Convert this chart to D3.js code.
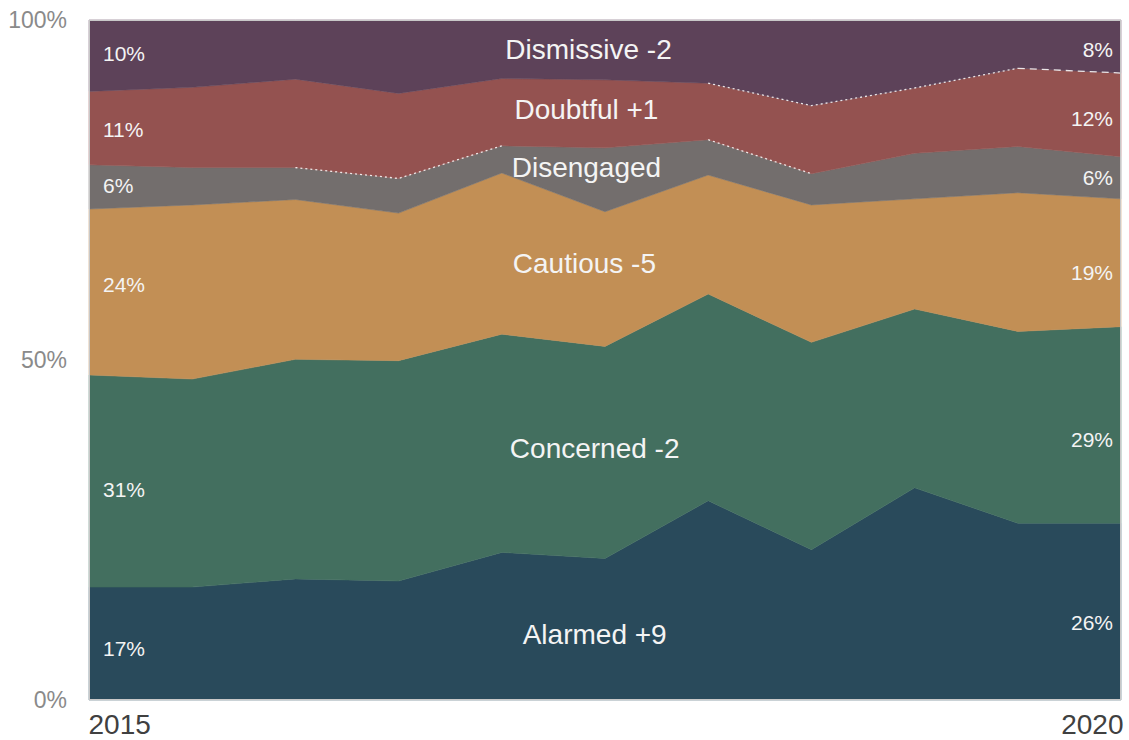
<!DOCTYPE html>
<html>
<head>
<meta charset="utf-8">
<script src="https://cdn.jsdelivr.net/npm/d3@7"></script>
<style>
  html, body { margin: 0; padding: 0; background: #fff; }
  svg { display: block; font-family: "Liberation Sans", Arial, sans-serif; }
</style>
</head>
<body>
<svg id="chart" width="1129" height="740"></svg>
<script>
// ---------------- data ----------------
const periods = [2015, 2015.5, 2016, 2016.5, 2017, 2017.5, 2018, 2018.5, 2019, 2019.5, 2020];
const alarmed    = [16.6, 16.6, 17.8, 17.5, 21.7, 20.8, 29.3, 22.1, 31.2, 26.0, 26.0];
const concerned  = [31.2, 30.6, 32.3, 32.4, 32.1, 31.2, 30.4, 30.5, 26.3, 28.2, 28.9];
const cautious   = [24.4, 25.6, 23.5, 21.7, 23.7, 19.8, 17.5, 20.2, 16.2, 20.4, 18.8];
const disengaged = [ 6.5,  5.5,  4.7,  5.1,  4.0,  9.4,  5.2,  4.6,  6.7,  6.8,  6.2];
const doubtful   = [10.8, 11.8, 13.0, 12.5,  9.9, 10.0,  8.3, 10.0,  9.6, 11.5, 12.3];
const dismissive = [10.5, 9.9,  8.7, 10.8,  8.6,  8.8,  9.3, 12.6, 10.0,  7.1,  7.8];

const seriesNames = ["Alarmed", "Concerned", "Cautious", "Disengaged", "Doubtful", "Dismissive"];
const seriesLabels = ["Alarmed +9", "Concerned -2", "Cautious -5", "Disengaged", "Doubtful +1", "Dismissive -2"];
const startLabels = ["17%", "31%", "24%", "6%", "11%", "10%"];
const endLabels   = ["26%", "29%", "19%", "6%", "12%", "8%"];
const yTickValues = [0, 50, 100];
const yTickLabels = ["0%", "50%", "100%"];
const xTickValues = [2015, 2020];
const xTickLabels = ["2015", "2020"];

// ---------------- layout / style ----------------
const colors = ["#294a5b", "#436f5f", "#c28f55", "#736e6d", "#945250", "#5d4259"];
const margin = { left: 89, right: 8, top: 20, bottom: 40 };
const W = 1129, H = 740;

const seriesValues = [alarmed, concerned, cautious, disengaged, doubtful, dismissive];
const table = periods.map((p, i) => {
  const row = { period: p };
  seriesNames.forEach((n, k) => { row[n] = seriesValues[k][i]; });
  return row;
});

const stack = d3.stack().keys(seriesNames).offset(d3.stackOffsetExpand);
const stacked = stack(table);

const x = d3.scaleLinear().domain([2015, 2020]).range([margin.left, W - margin.right]);
const y = d3.scaleLinear().domain([0, 1]).range([H - margin.bottom, margin.top]);
const yPct = d3.scaleLinear().domain([0, 100]).range([H - margin.bottom, margin.top]);

const svg = d3.select("#chart");

const area = d3.area()
  .x(d => x(d.data.period))
  .y0(d => y(d[0]))
  .y1(d => y(d[1]));

svg.append("g").selectAll("path")
  .data(stacked)
  .join("path")
  .attr("d", area)
  .attr("fill", (d, i) => colors[i])
  .attr("stroke", (d, i) => colors[i])
  .attr("stroke-width", 0.5);

// dotted white segments along some boundaries (top edge of a layer)
const dotted = [
  { layer: 3, from: 2, to: 4, dash: "2,3" },
  { layer: 3, from: 6, to: 7, dash: "2,3" },
  { layer: 4, from: 6, to: 9, dash: "2,3" },
  { layer: 4, from: 9, to: 10, dash: "7,5" }
];
const topLine = d3.line().x(d => x(d.data.period)).y(d => y(d[1]));
svg.append("g").selectAll("path")
  .data(dotted)
  .join("path")
  .attr("d", s => topLine(stacked[s.layer].slice(s.from, s.to + 1)))
  .attr("fill", "none")
  .attr("stroke", "#ffffff")
  .attr("stroke-opacity", 0.85)
  .attr("stroke-width", 1.3)
  .attr("stroke-dasharray", s => s.dash);

// plot frame
svg.append("rect")
  .attr("x", x(2015) + 0.5).attr("y", y(1) + 0.5)
  .attr("width", x(2020) - x(2015) - 1).attr("height", y(0) - y(1) - 1)
  .attr("fill", "none").attr("stroke", "#c8c8c8").attr("stroke-width", 1);

// y axis
const yAxis = d3.axisLeft(yPct).tickValues(yTickValues)
  .tickFormat((d, i) => yTickLabels[i]).tickSize(0).tickPadding(22);
const gy = svg.append("g").attr("transform", `translate(${margin.left},0)`).call(yAxis);
gy.select(".domain").remove();
gy.selectAll("text").attr("fill", "#8a8a8a").attr("font-size", 23)
  .attr("font-family", "Liberation Sans, Arial, sans-serif");

// x axis
const xAxis = d3.axisBottom(x).tickValues(xTickValues)
  .tickFormat((d, i) => xTickLabels[i]).tickSize(0).tickPadding(14);
const gx = svg.append("g").attr("transform", `translate(0,${H - margin.bottom})`).call(xAxis);
gx.select(".domain").remove();
gx.selectAll("text").attr("fill", "#404040").attr("font-size", 28)
  .attr("font-family", "Liberation Sans, Arial, sans-serif")
  .attr("text-anchor", (d, i) => i === 0 ? "start" : "end")
  .attr("dx", (d, i) => i === 0 ? -1 : 2);

// labels
const startAnchors = [6.4, 29.9, 60.0, 74.5, 82.8, 93.9];
const endAnchors   = [10.3, 37.2, 61.8, 75.8, 84.4, 94.6];
const nameAnchors  = [8.2, 35.6, 62.8, 76.9, 85.4, 94.2];
const nameCenters  = [2017.45, 2017.45, 2017.40, 2017.41, 2017.41, 2017.42];

const lab = svg.append("g").attr("fill", "#f4f4f4");
lab.selectAll("text.s").data(startLabels).join("text").attr("class", "s")
  .attr("x", x(2015) + 14).attr("y", (d, i) => yPct(startAnchors[i]))
  .attr("font-size", 21).text(d => d);
lab.selectAll("text.e").data(endLabels).join("text").attr("class", "e")
  .attr("x", x(2020) - 8).attr("y", (d, i) => yPct(endAnchors[i]))
  .attr("text-anchor", "end").attr("font-size", 21).text(d => d);
lab.selectAll("text.n").data(seriesLabels).join("text").attr("class", "n")
  .attr("x", (d, i) => x(nameCenters[i])).attr("y", (d, i) => yPct(nameAnchors[i]))
  .attr("text-anchor", "middle").attr("font-size", 28).text(d => d);
</script>
</body>
</html>
